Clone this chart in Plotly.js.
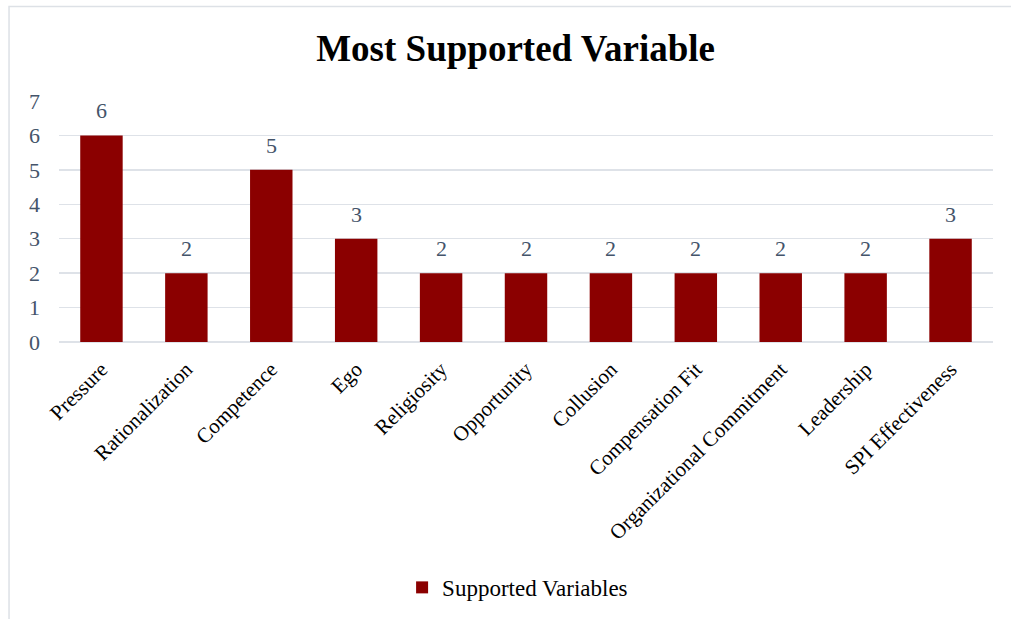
<!DOCTYPE html>
<html>
<head>
<meta charset="utf-8">
<script src="https://cdn.plot.ly/plotly-3.0.1.min.js"></script>
<style>
html,body{margin:0;padding:0;background:#fff;}
#chart{width:1011px;height:619px;}
</style>
</head>
<body>
<div id="chart"></div>
<script>
const categories = ["Pressure","Rationalization","Competence","Ego","Religiosity","Opportunity","Collusion","Compensation Fit","Organizational Commitment","Leadership","SPI Effectiveness"];
const values = [6,2,5,3,2,2,2,2,2,2,3];
const seriesName = "Supported Variables";
const titleText = "Most Supported Variable";

const serif = "Liberation Serif";
const tickGray = "#44546A";

const trace = {
  type: "bar",
  x: categories,
  y: values,
  name: seriesName,
  marker: {color: "#8B0000"},
  hoverinfo: "x+y"
};

const annotations = categories.map((c, i) => ({
  x: c, y: values[i], xref: "x", yref: "y",
  text: String(values[i]), showarrow: false,
  yanchor: "bottom", yshift: 10,
  font: {family: serif, size: 22, color: tickGray}
}));

const layout = {
  width: 1011, height: 619,
  margin: {l: 59, r: 18, t: 101, b: 276},
  paper_bgcolor: "#fff", plot_bgcolor: "#fff",
  font: {family: serif},
  title: {text: "<b>" + titleText + "</b>", font: {family: serif, size: 37, color: "#000"}, x: 0.51, xanchor: "center", y: 0.922, yanchor: "middle"},
  bargap: 0.5,
  xaxis: {
    tickangle: -45,
    tickfont: {family: serif, size: 21, color: "#000"},
    showgrid: false, zeroline: false, showline: false,
    ticks: "", ticklabelstandoff: 10
  },
  yaxis: {
    range: [0, 7], dtick: 1, tick0: 0,
    tickfont: {family: serif, size: 22, color: tickGray},
    showgrid: true, gridcolor: "#DEE2E8", gridwidth: 1.5,
    zeroline: true, zerolinecolor: "#DEE2E8", zerolinewidth: 1.5,
    showline: false, ticks: "", ticklabelstandoff: 18
  },
  showlegend: true,
  legend: {orientation: "h", x: 0.491, xanchor: "center", y: -1.01, yanchor: "middle",
    font: {family: serif, size: 23, color: "#000"}},
  annotations: annotations,
  shapes: [{type: "rect", xref: "paper", yref: "paper",
    x0: -0.0535, x1: 1.05, y0: -1.2, y1: 1.3926,
    line: {color: "#DDE1E6", width: 1.5}, fillcolor: "rgba(0,0,0,0)", layer: "below"}]
};

Plotly.newPlot("chart", [trace], layout, {displayModeBar: false, staticPlot: true});
</script>
</body>
</html>
